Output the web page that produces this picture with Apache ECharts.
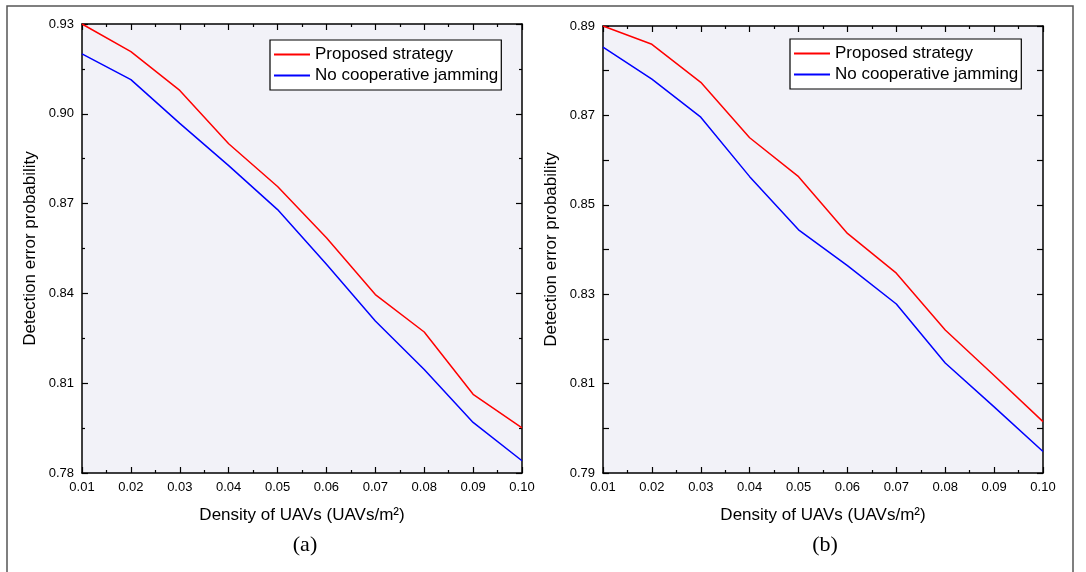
<!DOCTYPE html>
<html>
<head>
<meta charset="utf-8">
<script src="https://cdn.jsdelivr.net/npm/echarts@6/dist/echarts.min.js"></script>
<style>
  html, body { margin: 0; padding: 0; background: #fff; }
  #chart { width: 1086px; height: 572px; }
</style>
</head>
<body>
<div id="chart"></div>
<script>
// density of UAVs (x axis, both panels)
const density = [0.01, 0.02, 0.03, 0.04, 0.05, 0.06, 0.07, 0.08, 0.09, 0.10];

// panel (a)
const proposedA = [0.930, 0.9208, 0.9078, 0.8900, 0.8757, 0.8586, 0.8396, 0.8271, 0.8063, 0.7951];
const noJamA = [0.9200, 0.9114, 0.8968, 0.8827, 0.8680, 0.8497, 0.8308, 0.8146, 0.7969, 0.7841];

// panel (b)
const proposedB = [0.8900, 0.8859, 0.8774, 0.8650, 0.8563, 0.8436, 0.8347, 0.8220, 0.8118, 0.8015];
const noJamB = [0.8853, 0.8781, 0.8696, 0.8563, 0.8444, 0.8364, 0.8278, 0.8146, 0.8048, 0.7948];

const names = ['Proposed strategy', 'No cooperative jamming'];
const FONT = 'Liberation Sans, Arial, sans-serif';

function pairs(ys) {
  return density.map((x, i) => [x, ys[i]]);
}

function xAxes(grid) {
  const base = {
    gridIndex: grid,
    type: 'value',
    min: 0.01,
    max: 0.10,
    interval: 0.01,
    splitLine: { show: false },
    axisLine: { onZero: false, lineStyle: { color: '#000', width: 1.5 } },
    axisTick: { inside: true, length: 6, lineStyle: { color: '#000', width: 1.2 } },
    minorTick: { show: true, splitNumber: 2, length: 3, lineStyle: { color: '#000', width: 1.2 } }
  };
  return [
    Object.assign({}, base, {
      position: 'bottom',
      name: 'Density of UAVs (UAVs/m\u00B2)',
      nameLocation: 'middle',
      nameGap: 34,
      nameTextStyle: { color: '#000', fontSize: 17, fontFamily: FONT },
      axisLabel: {
        color: '#000', fontSize: 13, fontFamily: FONT, margin: 8,
        formatter: v => v.toFixed(2)
      }
    }),
    Object.assign({}, base, { position: 'top', axisLabel: { show: false } })
  ];
}

function yAxes(grid, min, max, interval, minor, labelStep) {
  const base = {
    gridIndex: grid,
    type: 'value',
    min: min,
    max: max,
    interval: interval,
    splitLine: { show: false },
    axisLine: { onZero: false, lineStyle: { color: '#000', width: 1.5 } },
    axisTick: { inside: true, length: 6, lineStyle: { color: '#000', width: 1.2 } },
    minorTick: { show: minor, splitNumber: 2, length: 3, lineStyle: { color: '#000', width: 1.2 } }
  };
  return [
    Object.assign({}, base, {
      position: 'left',
      name: 'Detection error probability',
      nameLocation: 'middle',
      nameGap: 43,
      nameTextStyle: { color: '#000', fontSize: 17, fontFamily: FONT },
      axisLabel: {
        color: '#000', fontSize: 13, fontFamily: FONT, margin: 8,
        formatter: v => {
          const k = Math.round((v - min) / interval);
          return k % labelStep === 0 ? v.toFixed(2) : '';
        }
      }
    }),
    Object.assign({}, base, { position: 'right', axisLabel: { show: false } })
  ];
}

function legendAt(left, top) {
  return {
    left: left,
    top: top,
    orient: 'vertical',
    data: names,
    icon: 'rect',
    backgroundColor: '#fff',
    borderColor: '#000',
    borderWidth: 1.2,
    borderRadius: 0,
    padding: [4, 3, 4, 4],
    itemGap: 0,
    itemWidth: 36,
    itemHeight: 2,
    selectedMode: false,
    textStyle: { color: '#000', fontSize: 17, fontFamily: FONT, lineHeight: 21 }
  };
}

function line(name, color, xi, yi, ys) {
  return {
    name: name,
    type: 'line',
    xAxisIndex: xi,
    yAxisIndex: yi,
    symbol: 'none',
    showSymbol: false,
    animation: false,
    lineStyle: { color: color, width: 1.5 },
    itemStyle: { color: color },
    data: pairs(ys)
  };
}

const chart = echarts.init(document.getElementById('chart'), null, { renderer: 'canvas' });

chart.setOption({
  animation: false,
  backgroundColor: '#fff',
  grid: [
    { left: 82, top: 24, width: 440, height: 449, show: true, backgroundColor: '#f2f2f8', borderWidth: 0 },
    { left: 603, top: 26, width: 440, height: 447, show: true, backgroundColor: '#f2f2f8', borderWidth: 0 }
  ],
  xAxis: xAxes(0).concat(xAxes(1)),
  yAxis: yAxes(0, 0.78, 0.93, 0.03, true, 1).concat(yAxes(1, 0.79, 0.89, 0.01, false, 2)),
  legend: [legendAt(270, 40), legendAt(790, 39)],
  graphic: [
    {
      type: 'rect',
      shape: { x: 7, y: 6, width: 1066, height: 600 },
      style: { fill: 'none', stroke: '#555', lineWidth: 1.5 },
      silent: true
    },
    {
      type: 'text', x: 305, y: 545,
      style: { text: '(a)', fill: '#000', font: '22px "Liberation Serif", "Times New Roman", serif', align: 'center', verticalAlign: 'middle' }
    },
    {
      type: 'text', x: 825, y: 545,
      style: { text: '(b)', fill: '#000', font: '22px "Liberation Serif", "Times New Roman", serif', align: 'center', verticalAlign: 'middle' }
    }
  ],
  series: [
    line(names[0], '#ff0000', 0, 0, proposedA),
    line(names[1], '#0000ff', 0, 0, noJamA),
    line(names[0], '#ff0000', 2, 2, proposedB),
    line(names[1], '#0000ff', 2, 2, noJamB)
  ]
});
</script>
</body>
</html>
